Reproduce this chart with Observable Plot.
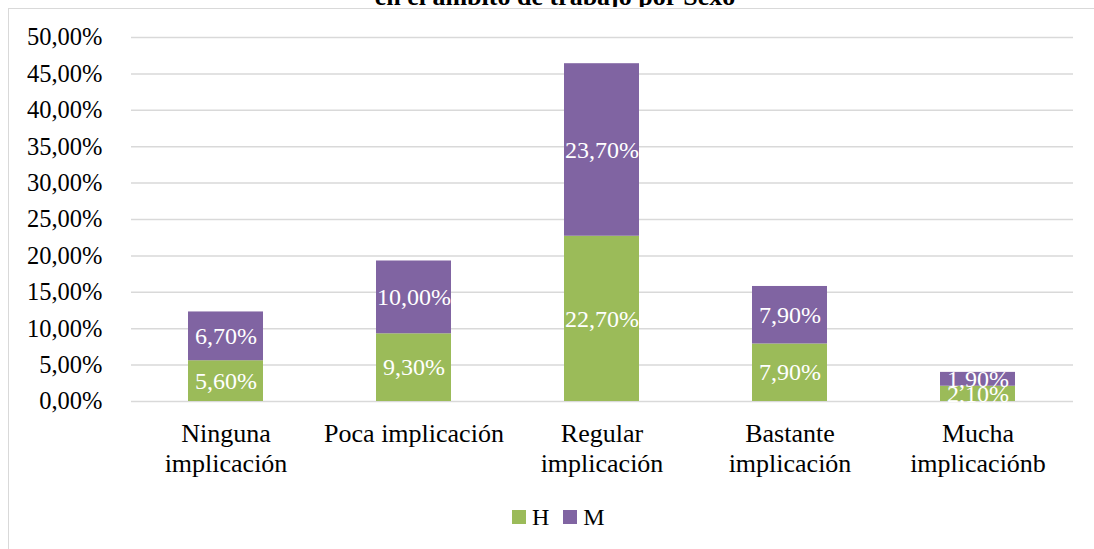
<!DOCTYPE html>
<html>
<head>
<meta charset="utf-8">
<script src="https://cdn.jsdelivr.net/npm/d3@7"></script>
<script src="https://cdn.jsdelivr.net/npm/@observablehq/plot@0.6"></script>
<style>
  html, body { margin: 0; padding: 0; background: #fff; overflow: hidden; }
  body { width: 1094px; height: 549px; position: relative; font-family: "Liberation Serif", serif; }
  #frame { position: absolute; left: 8px; top: 8px; width: 1100px; height: 560px; border: 1.5px solid #d9d9d9; box-sizing: border-box; }
  #titleclip { position: absolute; left: 0; top: 0; width: 1110px; height: 7px; overflow: hidden; }
  #title { position: absolute; left: 0; width: 1110px; text-align: center; top: -16px; font-size: 26px; font-weight: bold; line-height: 26px; color: #000; white-space: nowrap; }
  #chart { position: absolute; left: 0; top: 0; }
  #legend { position: absolute; top: 505px; left: 512px; display: flex; align-items: center; font-size: 24px; line-height: 24px; color: #000; }
  .item { display: flex; align-items: center; margin-right: 14px; }
  .sw { width: 14px; height: 14px; margin-right: 6px; }
</style>
</head>
<body>
<div id="frame"></div>
<div id="titleclip"><div id="title">en el ámbito de trabajo por Sexo</div></div>
<div id="chart"></div>
<div id="legend"></div>
<script>
const categories = ["Ninguna\nimplicación", "Poca implicación", "Regular\nimplicación", "Bastante\nimplicación", "Mucha\nimplicaciónb"];
const series = ["H", "M"];
const valuesH = [5.6, 9.3, 22.7, 7.9, 2.1];
const valuesM = [6.7, 10.0, 23.7, 7.9, 1.9];
const colors = ["#9BBB59", "#8064A2"];
const yTicks = [0, 5, 10, 15, 20, 25, 30, 35, 40, 45, 50];

const data = [];
categories.forEach((c, i) => {
  data.push({cat: c, sexo: "H", v: valuesH[i]});
  data.push({cat: c, sexo: "M", v: valuesM[i]});
});
const fmt = d => d.toFixed(2).replace(".", ",") + "%";
const FF = "Liberation Serif";

const plot = Plot.plot({
  width: 1094,
  height: 549,
  marginLeft: 131,
  marginRight: 21,
  marginTop: 37,
  marginBottom: 148,
  style: {background: "transparent", color: "#000"},
  x: {domain: categories, paddingInner: 0.6, paddingOuter: 0.3, label: null},
  y: {domain: [0, 50], label: null},
  color: {domain: series, range: colors},
  marks: [
    Plot.gridY(yTicks, {stroke: "#d9d9d9", strokeOpacity: 1, strokeWidth: 1.5}),
    Plot.barY(data, Plot.stackY({x: "cat", y: "v", fill: "sexo", order: series})),
    Plot.text(data, Plot.stackY({x: "cat", y: "v", z: "sexo", order: series, text: d => fmt(d.v), fill: "white", fontSize: 24, fontFamily: FF})),
    Plot.axisY(yTicks, {tickSize: 0, tickPadding: 29, tickFormat: fmt, fontSize: 24.5, fontFamily: FF, fill: "#000"}),
    Plot.axisX({tickSize: 0, tickPadding: 19, fontSize: 26, fontFamily: FF, lineHeight: 1.154, fill: "#000"})
  ]
});
plot.querySelectorAll("text, g").forEach(el => {
  el.setAttribute("font-family", FF);
  el.style.setProperty("font-family", "'Liberation Serif', serif", "important");
  el.style.setProperty("font-variant", "normal", "important");
});
document.getElementById("chart").appendChild(plot);

const legend = document.getElementById("legend");
series.forEach((s, i) => {
  const it = document.createElement("div");
  it.className = "item";
  const sw = document.createElement("div");
  sw.className = "sw";
  sw.style.background = colors[i];
  const t = document.createElement("span");
  t.textContent = s;
  it.appendChild(sw); it.appendChild(t);
  legend.appendChild(it);
});
</script>
</body>
</html>
